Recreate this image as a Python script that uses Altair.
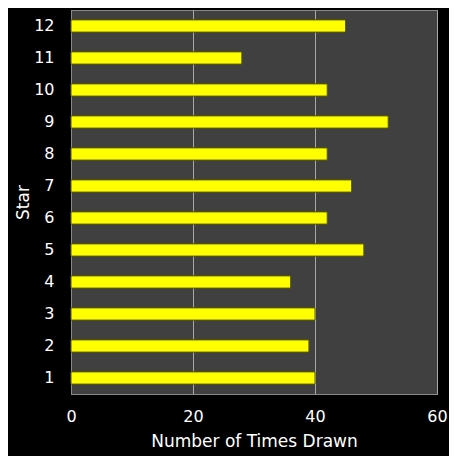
import altair as alt
import pandas as pd

stars = ["1", "2", "3", "4", "5", "6", "7", "8", "9", "10", "11", "12"]
times_drawn = [40, 39, 40, 36, 48, 42, 46, 42, 52, 42, 28, 45]

df = pd.DataFrame({"Star": stars, "Times": times_drawn})

font = "DejaVu Sans"

chart = alt.Chart(df).mark_bar(
    color="#ffff00", stroke="#5c5c00", strokeWidth=1
).encode(
    x=alt.X("Times:Q", title="Number of Times Drawn",
            scale=alt.Scale(domain=[0, 60]),
            axis=alt.Axis(values=[0, 20, 40, 60], grid=True, gridColor="#a8a8a8",
                          gridWidth=1, ticks=False, domain=True, domainColor="#8a8a8a",
                          labelColor="white", labelFontSize=16, labelFont=font,
                          labelFlush=False,
                          labelPadding=14, titleColor="white", titleFontSize=17,
                          titleFont=font, titleFontWeight="normal", titlePadding=9)),
    y=alt.Y("Star:N", sort=stars[::-1], title="Star",
            scale=alt.Scale(paddingInner=0.62, paddingOuter=0.31),
            axis=alt.Axis(ticks=False, domain=True, domainColor="#8a8a8a", grid=False,
                          labelColor="white", labelFontSize=16, labelFont=font,
                          labelPadding=17, labelAngle=0, titleColor="white",
                          titleFontSize=17, titleFont=font, titleFontWeight="normal",
                          titlePadding=1)),
).properties(
    width=366, height=384,
    background="black",
    autosize=alt.AutoSizeParams(type="none"),
    padding={"left": 63, "top": 2, "right": 12, "bottom": 62},
).configure_view(
    fill="#404040", stroke="#8a8a8a", strokeWidth=1
)

chart.save("out.html", embed_options={"renderer": "svg", "actions": False})
